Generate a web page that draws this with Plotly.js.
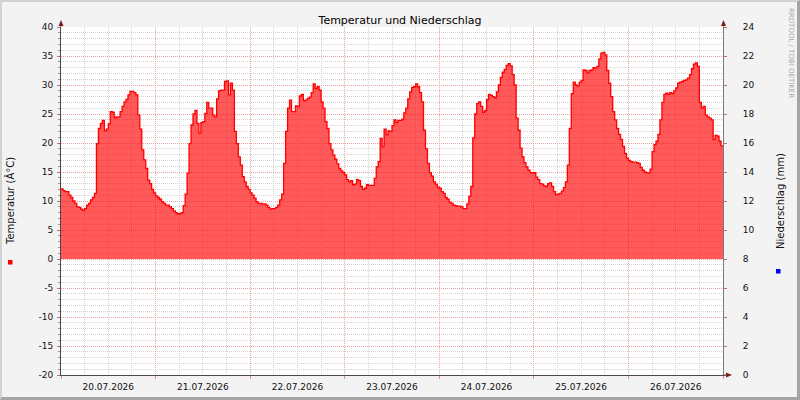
<!DOCTYPE html>
<html>
<head>
<meta charset="utf-8">
<script src="https://cdn.plot.ly/plotly-3.0.1.min.js"></script>
<style>
  html, body { margin: 0; padding: 0; background: #F3F3F3; }
  #wrap { position: relative; width: 800px; height: 400px; }
  #chart { width: 800px; height: 400px; }
  #frame { position: absolute; left: 0; top: 0; width: 800px; height: 400px; box-sizing: border-box;
           border-style: solid; border-width: 2px 3px 3px 2px;
           border-color: #D2D2D2 #A4A4A4 #A4A4A4 #D2D2D2; pointer-events: none; }
</style>
</head>
<body>
<div id="wrap"><div id="chart"></div><div id="frame"></div></div>
<script>
// ---- data: temperature (°C), half-hourly ----
const seriesStart = '2026-07-20 00:00';
const seriesEnd = '2026-07-27 00:00';
const stepMinutes = 30;
const temp_20_07 = [12.1,11.8,11.6,11.6,11.0,10.6,10.0,9.6,9.0,8.9,8.6,8.4,8.7,9.3,9.6,10.2,10.6,11.3,19.9,22.5,23.4,23.9,22.1,22.4,23.3,25.4,25.3,24.4,24.5,24.5,25.4,26.3,27.1,27.5,28.3,28.9,28.9,28.7,28.3,24.8,22.4,18.8,17.1,15.6,13.6,13.0,12.0,11.4];
const temp_21_07 = [10.9,10.6,10.3,9.9,9.6,9.3,9.3,9.0,8.7,8.3,8.0,7.8,7.8,8.0,9.2,11.2,14.8,19.9,23.1,25.0,25.6,23.4,21.7,23.5,23.7,25.1,27.0,26.0,26.0,24.8,24.5,27.6,29.0,29.1,29.1,30.6,30.7,28.3,30.3,29.1,22.0,19.9,17.6,16.2,14.2,13.3,12.5,12.0];
const temp_22_07 = [11.4,11.0,10.5,9.9,9.6,9.6,9.5,9.5,9.3,8.9,8.6,8.7,8.7,8.9,9.3,10.2,11.2,16.5,22.0,26.0,27.4,25.4,25.4,26.4,26.3,28.1,28.4,27.3,27.4,27.7,27.9,28.7,30.2,29.4,29.7,29.1,27.1,26.0,23.7,22.5,19.9,18.8,17.9,17.2,16.4,15.6,15.2,14.9];
const temp_23_07 = [14.5,13.7,13.3,13.5,12.8,12.9,13.7,13.5,12.5,12.0,12.2,12.8,12.7,12.7,12.7,13.9,15.9,16.8,20.8,19.4,22.4,21.4,22.1,22.0,23.0,24.0,23.5,23.9,23.9,24.1,25.2,26.0,27.6,28.8,29.6,29.7,30.2,29.7,28.7,27.1,22.2,19.0,16.5,14.9,14.3,13.3,12.9,12.4];
const temp_24_07 = [12.2,11.6,11.3,10.6,10.3,9.8,9.6,9.3,9.2,9.1,9.1,9.0,8.7,8.7,9.5,10.8,12.5,20.9,25.0,26.8,27.1,26.3,25.3,25.6,27.5,28.4,28.2,28.0,27.8,28.8,30.0,31.3,32.2,32.7,33.4,33.7,33.3,31.8,30.0,24.3,22.2,19.1,17.6,16.6,15.9,15.3,14.9,14.8];
const temp_25_07 = [14.9,14.1,13.7,13.0,12.9,12.6,12.5,13.0,13.1,12.5,11.6,11.1,11.2,11.3,11.7,12.3,13.3,16.2,22.5,28.5,30.5,30.0,29.8,30.5,30.8,32.6,32.5,32.1,32.5,32.6,33.0,32.9,33.2,34.5,35.5,35.6,35.2,32.5,30.3,28.0,25.4,24.0,22.5,21.5,20.6,19.4,18.2,17.4];
const temp_26_07 = [17.0,16.8,16.7,16.7,16.6,16.5,15.8,15.3,15.0,14.9,14.8,15.5,18.5,19.7,20.3,21.5,24.0,27.0,28.4,28.6,28.4,28.7,28.5,29.0,29.5,30.3,30.5,30.6,30.8,30.9,31.2,31.8,32.8,33.6,33.8,33.2,27.0,26.0,26.3,24.8,24.5,24.3,24.0,20.6,21.3,21.2,20.3,19.5];
const temp_edge_27_07 = [19.5];
const precipitation = [];   // Niederschlag: no values shown

// tick labels (ASCII hyphen-minus as in the reference)
const leftTickVals = [-20,-15,-10,-5,0,5,10,15,20,25,30,35,40];
const leftTickText = ['-20','-15','-10','-5','0','5','10','15','20','25','30','35','40'];
const rightTickVals = [0,2,4,6,8,10,12,14,16,18,20,22,24];
const rightTickText = ['0','2','4','6','8','10','12','14','16','18','20','22','24'];

// texts
const chartTitle = 'Temperatur und Niederschlag';
const leftTitle = 'Temperatur (Â°C)';
const rightTitle = 'Niederschlag (mm)';
const watermark = 'RRDTOOL / TOBI OETIKER';

// ---- build series ----
const temps = [].concat(temp_20_07, temp_21_07, temp_22_07, temp_23_07, temp_24_07, temp_25_07, temp_26_07, temp_edge_27_07);
function pad(n){ return (n < 10 ? '0' : '') + n; }
function fmt(d){ return d.getUTCFullYear() + '-' + pad(d.getUTCMonth()+1) + '-' + pad(d.getUTCDate()) + ' ' + pad(d.getUTCHours()) + ':' + pad(d.getUTCMinutes()); }
const t0 = Date.UTC(2026, 6, 20, 0, 0);
const times = temps.map((_, i) => fmt(new Date(t0 + i * stepMinutes * 60000)));

const traces = [
  {
    type: 'scatter', mode: 'lines', name: 'Temperatur',
    x: times, y: temps,
    line: { shape: 'hv', color: '#FF0000', width: 1.3 },
    fill: 'tozeroy', fillcolor: 'rgba(255,0,0,0.65)',
    hoverinfo: 'skip'
  },
  {
    type: 'scatter', mode: 'lines', name: 'Niederschlag',
    x: precipitation.map((_, i) => times[i]), y: precipitation,
    yaxis: 'y2', line: { color: '#0000FF' }, hoverinfo: 'skip'
  }
];

// helpers for decorations (pixel -> paper)
const L = 61, R = 723, T = 27, B = 375;
const px = x => (x - L) / (R - L);
const py = y => (B - y) / (B - T);
const arrowCol = '#7A1E1E';
function tri(pts){ return 'M' + pts.map(p => px(p[0]) + ',' + py(p[1])).join(' L') + ' Z'; }

const majorGrid = '#E9A3A3';
const minorGrid = '#D3D3D3';

const layout = {
  width: 800, height: 400,
  margin: { l: 61, r: 77, t: 27, b: 25, pad: 0 },
  paper_bgcolor: '#F3F3F3',
  plot_bgcolor: '#FFFFFF',
  font: { family: 'DejaVu Sans', size: 9, color: '#111' },
  showlegend: false,
  hovermode: false,
  title: { text: chartTitle, font: { family: 'DejaVu Sans', size: 11, color: '#000' },
           x: 0.5, xref: 'container', xanchor: 'center', y: 1 - 20/400, yref: 'container', yanchor: 'middle' },
  xaxis: {
    type: 'date', range: [seriesStart, seriesEnd],
    tick0: '2026-07-20', dtick: 86400000, tickformat: '%d.%m.%Y', ticklabelmode: 'period',
    showgrid: true, gridcolor: majorGrid, griddash: '1px,1px', gridwidth: 1,
    minor: { dtick: 21600000, showgrid: true, gridcolor: minorGrid, griddash: '1px,1px', ticks: '' },
    ticks: 'outside', ticklen: 3, tickcolor: '#E08A8A',
    showline: true, linecolor: '#4A4A4A', linewidth: 1, zeroline: false, fixedrange: true,
    tickfont: { family: 'DejaVu Sans', size: 9, color: '#111' }
  },
  yaxis: {
    range: [-20, 40], tickmode: 'array', tickvals: leftTickVals, ticktext: leftTickText,
    showgrid: true, gridcolor: majorGrid, griddash: '1px,1px', gridwidth: 1,
    minor: { dtick: 1, tick0: 0, showgrid: true, gridcolor: minorGrid, griddash: '1px,1px', ticks: 'outside', ticklen: 2, tickcolor: '#999' },
    ticks: 'outside', ticklen: 3, tickcolor: '#C07070',
    showline: true, linecolor: '#4A4A4A', linewidth: 1, zeroline: false, fixedrange: true,
    ticklabelstandoff: 2,
    tickfont: { family: 'DejaVu Sans', size: 9, color: '#111' }
  },
  yaxis2: {
    overlaying: 'y', side: 'right', anchor: 'x',
    range: [0, 24], tickmode: 'array', tickvals: rightTickVals, ticktext: rightTickText,
    showgrid: false, zeroline: false,
    showline: true, linecolor: '#7A7A7A', linewidth: 1,
    ticks: 'outside', ticklen: 3, tickcolor: '#C07070',
    ticklabelstandoff: 14, fixedrange: true,
    tickfont: { family: 'DejaVu Sans', size: 9, color: '#111' }
  },
  annotations: [
    { text: leftTitle, xref: 'paper', yref: 'paper', x: px(10), y: 0.5, textangle: -90,
      showarrow: false, xanchor: 'center', yanchor: 'middle', font: { family: 'DejaVu Sans', size: 10, color: '#111' } },
    { text: rightTitle, xref: 'paper', yref: 'paper', x: px(780), y: 0.5, textangle: -90,
      showarrow: false, xanchor: 'center', yanchor: 'middle', font: { family: 'DejaVu Sans', size: 10, color: '#111' } },
    { text: watermark, xref: 'paper', yref: 'paper', x: px(791), y: py(53), textangle: 90,
      showarrow: false, xanchor: 'center', yanchor: 'middle', font: { family: 'DejaVu Sans', size: 7, color: '#A8A8A8' } }
  ],
  shapes: [
    // axis extensions
    { type: 'line', xref: 'paper', yref: 'paper', x0: 0, x1: 0, y0: 1, y1: py(22), line: { color: '#4A4A4A', width: 1 } },
    { type: 'line', xref: 'paper', yref: 'paper', x0: px(R+0.5), x1: px(R+0.5), y0: 1, y1: py(22), line: { color: '#7A7A7A', width: 1 } },
    { type: 'line', xref: 'paper', yref: 'paper', x0: 1, x1: px(728), y0: 0, y1: 0, line: { color: '#4A4A4A', width: 1 } },
    // arrow heads
    { type: 'path', xref: 'paper', yref: 'paper', path: tri([[61,20],[58.5,26],[63.5,26]]), fillcolor: arrowCol, line: { width: 0 } },
    { type: 'path', xref: 'paper', yref: 'paper', path: tri([[723.5,20],[721,26],[726,26]]), fillcolor: arrowCol, line: { width: 0 } },
    { type: 'path', xref: 'paper', yref: 'paper', path: tri([[732,375],[726,372.5],[726,377.5]]), fillcolor: arrowCol, line: { width: 0 } },
    // legend colour squares
    { type: 'rect', xref: 'paper', yref: 'paper', x0: px(8), x1: px(12.5), y0: py(264.5), y1: py(260), fillcolor: '#FF0000', line: { width: 0 } },
    { type: 'rect', xref: 'paper', yref: 'paper', x0: px(776), x1: px(780.5), y0: py(273.5), y1: py(269), fillcolor: '#0000FF', line: { width: 0 } }
  ]
};

Plotly.newPlot('chart', traces, layout, { displayModeBar: false, staticPlot: true });
</script>
</body>
</html>
